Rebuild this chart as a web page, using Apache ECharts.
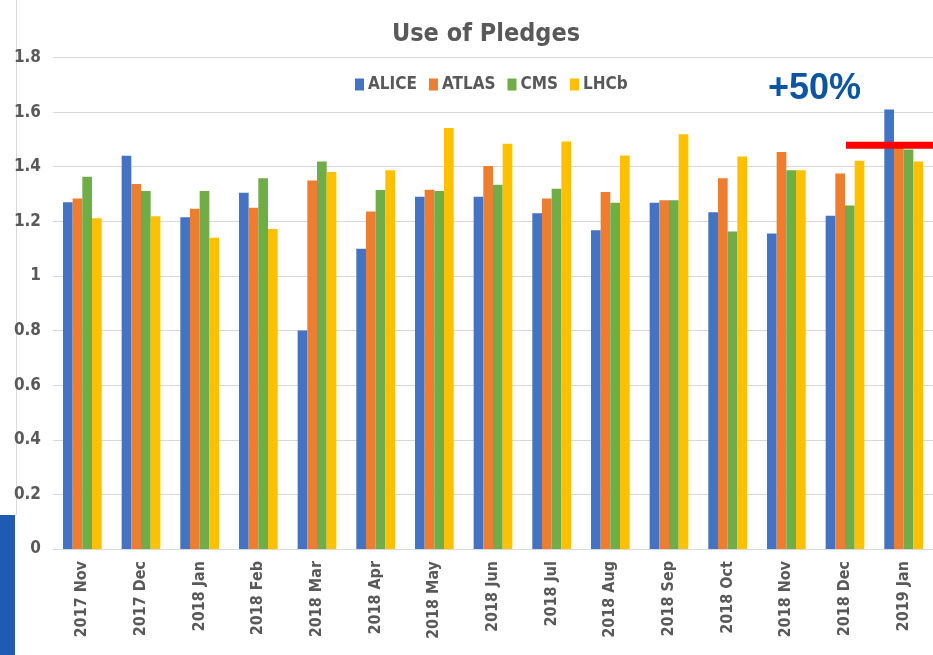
<!DOCTYPE html>
<html>
<head>
<meta charset="utf-8">
<script src="https://cdn.jsdelivr.net/npm/echarts@6/dist/echarts.min.js"></script>
<style>
html,body{margin:0;padding:0;background:#fff;}
#main{width:933px;height:655px;}
</style>
</head>
<body>
<div id="main"></div>
<script>
var months = ['2017 Nov','2017 Dec','2018 Jan','2018 Feb','2018 Mar','2018 Apr','2018 May',
    '2018 Jun','2018 Jul','2018 Aug','2018 Sep','2018 Oct','2018 Nov','2018 Dec','2019 Jan'];
var alice = [1.27,1.44,1.215,1.305,0.80,1.10,1.29,1.29,1.23,1.167,1.268,1.233,1.155,1.22,1.61];
var atlas = [1.284,1.337,1.246,1.25,1.35,1.236,1.316,1.403,1.284,1.307,1.277,1.358,1.454,1.375,1.48];
var cms   = [1.363,1.311,1.311,1.358,1.419,1.315,1.311,1.334,1.319,1.268,1.277,1.163,1.387,1.258,1.463];
var lhcb  = [1.211,1.219,1.14,1.172,1.381,1.387,1.542,1.484,1.492,1.441,1.519,1.437,1.387,1.422,1.419];
var pledgeLine = 1.479;   // red line above 2019 Jan

var narrow = "'Liberation Sans Narrow','DejaVu Sans Condensed','Liberation Sans',sans-serif";
var grey = '#595959';

var chart = echarts.init(document.getElementById('main'));

function bar(name, data) {
    return {
        name: name,
        type: 'bar',
        barGap: '0%',
        barCategoryGap: '34%',
        data: data
    };
}

chart.setOption({
    animation: false,
    color: ['#4472C4','#ED7D31','#70AD47','#FFC000'],
    title: {
        text: 'Use of Pledges',
        left: 481, top: 17, textAlign: 'center',
        textStyle: { fontFamily: narrow, fontWeight: 'bold', fontSize: 25, color: grey }
    },
    legend: {
        left: 350, top: 71,
        itemWidth: 9, itemHeight: 12, itemGap: 12,
        icon: 'rect',
        data: ['ALICE','ATLAS','CMS','LHCb'],
        textStyle: { fontFamily: narrow, fontWeight: 'bold', fontSize: 17, color: grey, padding: [0,0,0,-1] }
    },
    grid: { left: 53, right: -9, top: 57.5, bottom: 106 },
    xAxis: {
        type: 'category',
        data: months,
        axisTick: { show: false },
        axisLine: { lineStyle: { color: '#d9d9d9', width: 1 } },
        axisLabel: {
            rotate: 90, margin: 12, interval: 0,
            fontFamily: narrow, fontWeight: 'bold', fontSize: 16, color: grey
        }
    },
    yAxis: {
        type: 'value',
        min: 0, max: 1.8, interval: 0.2,
        axisLine: { show: false },
        axisTick: { show: false },
        splitLine: { lineStyle: { color: '#d9d9d9', width: 1 } },
        axisLabel: {
            margin: 12,
            fontFamily: narrow, fontWeight: 'bold', fontSize: 17, color: grey
        }
    },
    series: [
        bar('ALICE', alice),
        bar('ATLAS', atlas),
        bar('CMS', cms),
        bar('LHCb', lhcb)
    ]
});

var lineY = chart.convertToPixel({ yAxisIndex: 0 }, pledgeLine);
chart.setOption({
    graphic: [
        { type: 'rect', left: 16, top: 0, shape: { width: 1, height: 515 }, style: { fill: '#d9d9d9' } },
        { type: 'rect', left: 0, top: 515, shape: { width: 15, height: 140 }, style: { fill: '#1F5BB0' } },
        { type: 'rect', left: 846, top: lineY - 3.5, shape: { width: 90, height: 7 }, style: { fill: '#FF0000' }, z: 100 },
        {
            type: 'text', left: 768, top: 71,
            style: { text: '+50%', fill: '#0B55A3', font: "bold 36px 'Liberation Sans', Arial, sans-serif" }
        }
    ]
});
</script>
</body>
</html>
